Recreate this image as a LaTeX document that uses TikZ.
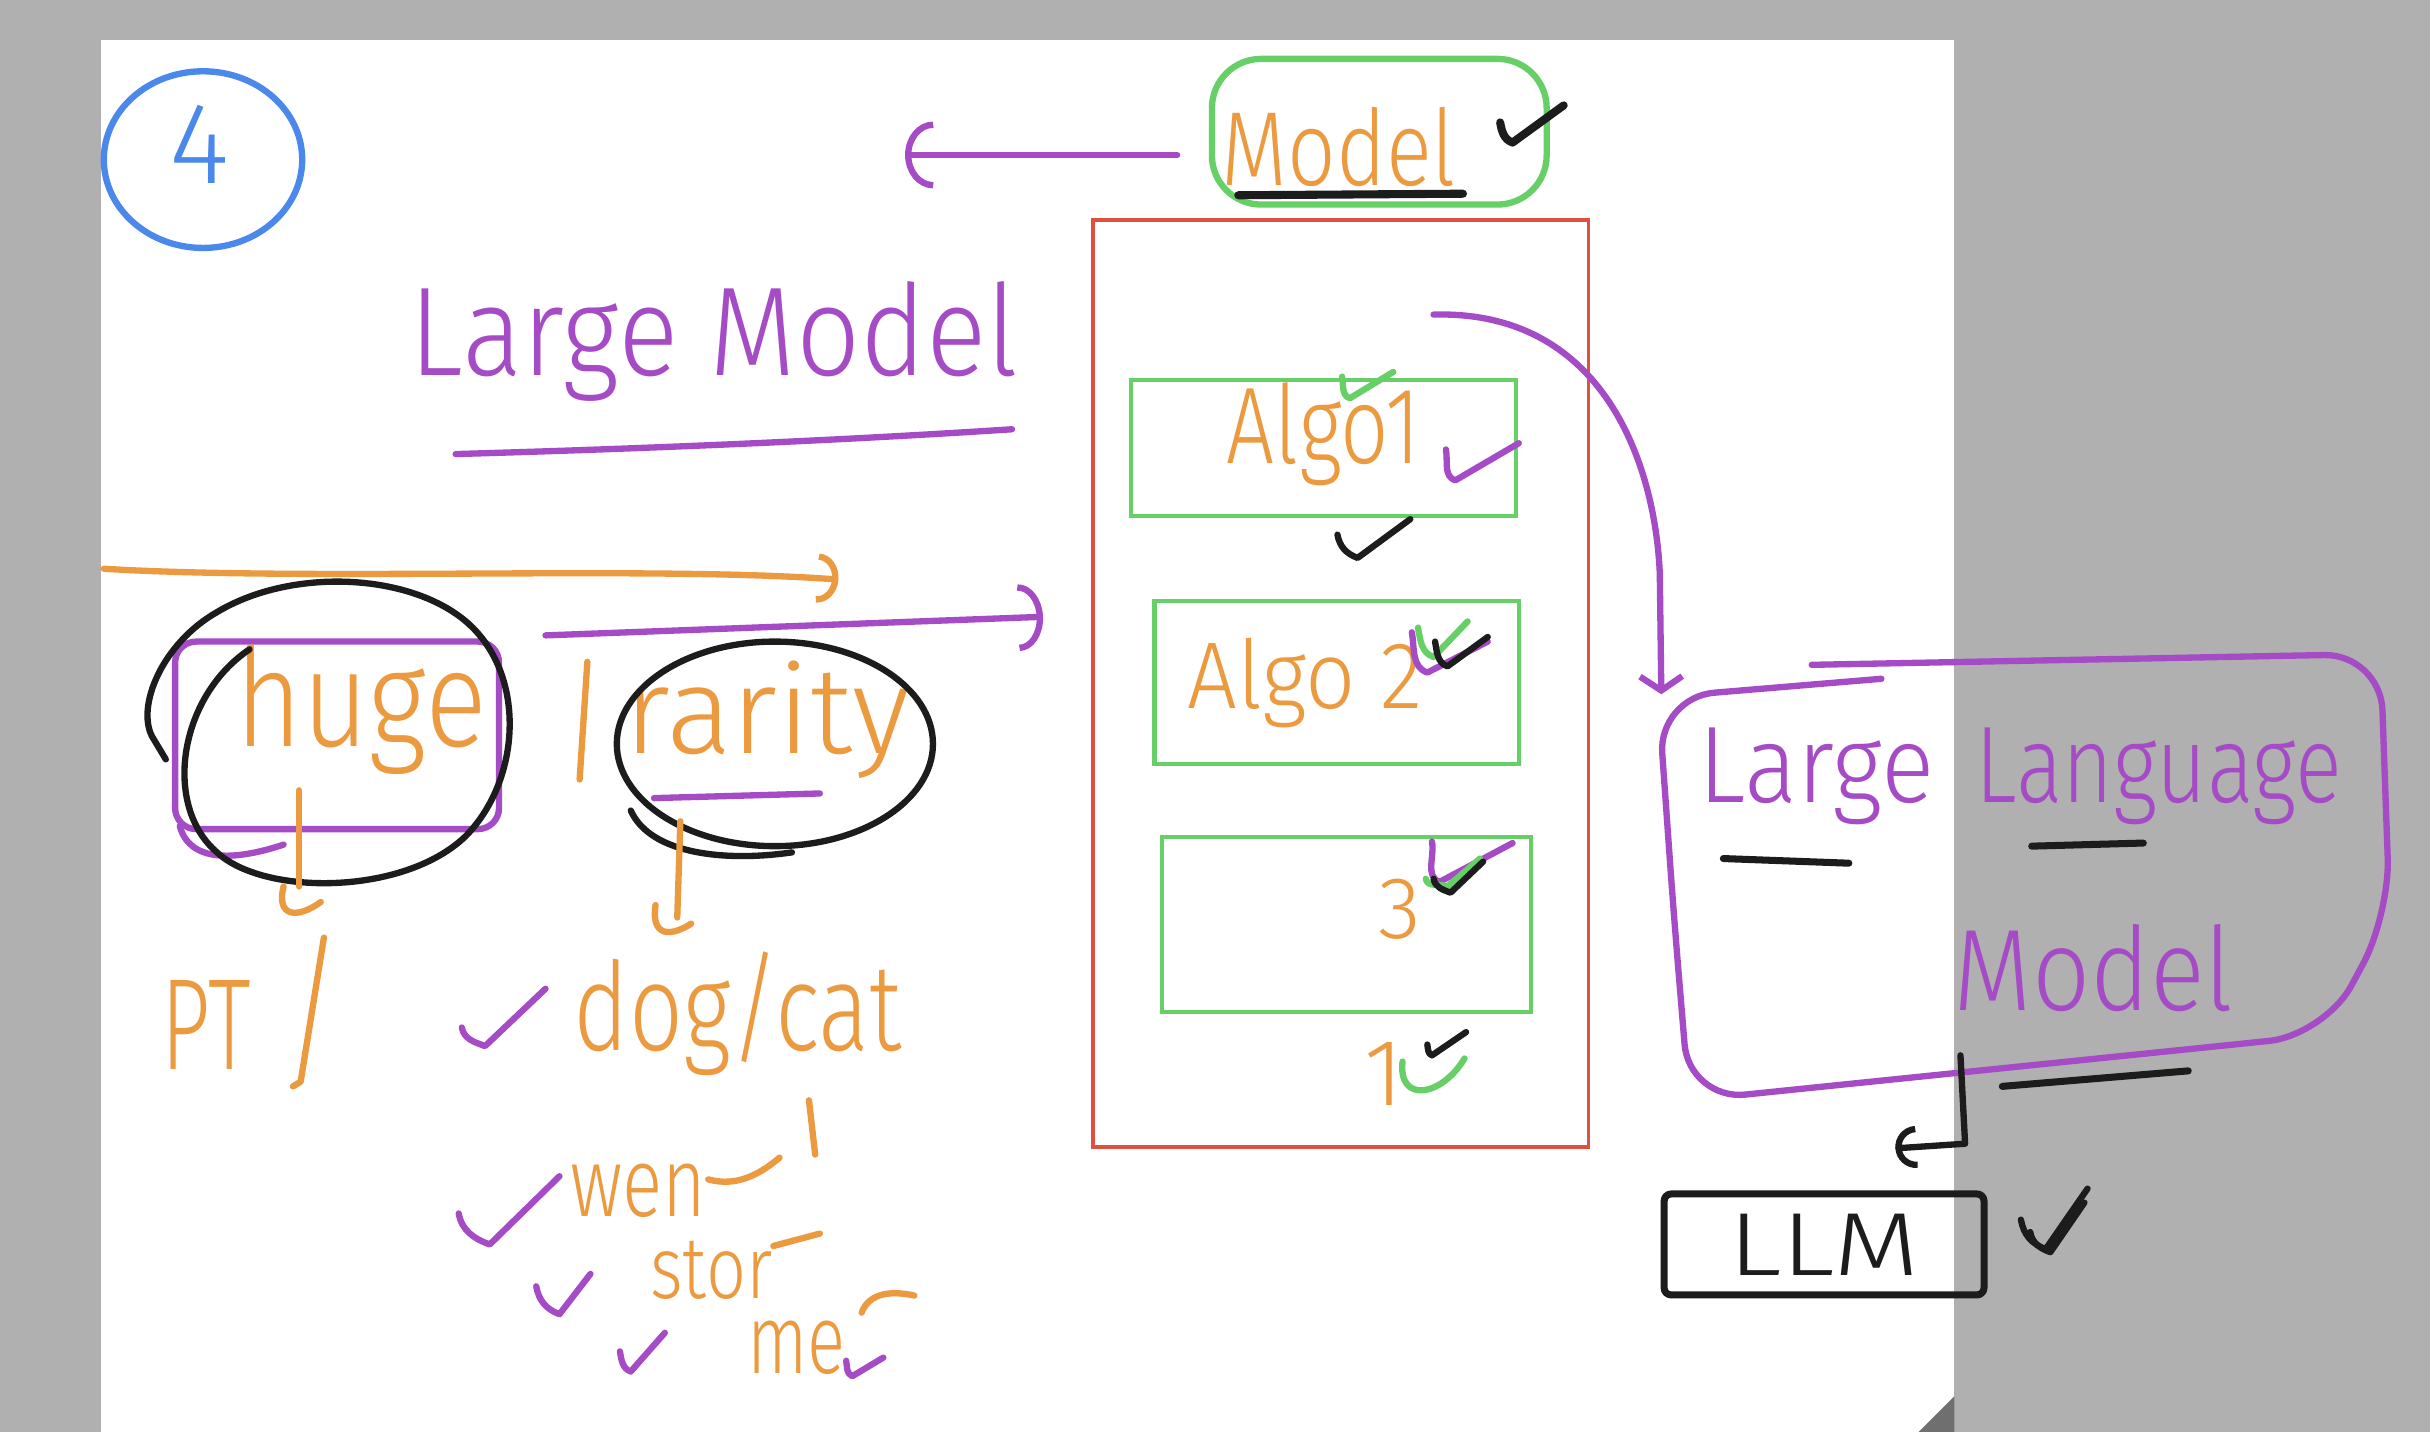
\documentclass[tikz,border=0pt]{standalone}
\usepackage{fontspec}
\setmainfont{Fira Sans Light}
\usetikzlibrary{arrows.meta,fit}

\definecolor{pagegray}{HTML}{B0B0B0}
\definecolor{pagecorner}{HTML}{6F6F6F}
\definecolor{penpurple}{HTML}{A64BC6}
\definecolor{penorange}{HTML}{EB9A40}
\definecolor{pengreen}{HTML}{66CF66}
\definecolor{penred}{HTML}{E0503F}
\definecolor{penblue}{HTML}{4A88EB}
\definecolor{penblack}{HTML}{1C1C1C}

\tikzset{
  pen/.style={line width=1.8pt, line cap=round, line join=round},
  hand/.style={inner sep=0pt, anchor=base, font=\fontsize{#1pt}{#1pt}\selectfont},
  greenbox/.style={draw=pengreen, line width=1.2pt, inner sep=0pt},
}
\newcommand{\hw}[2]{\scalebox{#1}[1]{#2}}
\newcommand{\tickmk}[4]{\draw[pen,#1] #2 to[out=-80,in=160] #3 -- #4;}

\begin{document}
\begin{tikzpicture}[x=0.0155cm, y=-0.0155cm]
\useasboundingbox (0,0) rectangle (1568,924);

% page
\fill[pagegray] (0,0) rectangle (1568,924);
\fill[white] (65,26) rectangle (1261,924);
\fill[pagecorner] (1238,924) -- (1261,901) -- (1261,924) -- cycle;

% step number
\draw[pen, penblue] (131,103) ellipse (64 and 57);
\node[hand=33, penblue, anchor=center] (stepno) at (129,93) {4};

% heading
\node[hand=36, penpurple] (heading) at (461,242) {\hw{0.89}{Large Model}};
\draw[pen, penpurple] (294,293) .. controls (400,290) and (530,285) .. (653,277);

% the two long strokes
\coordinate (orgL) at (67,367);
\coordinate (orgR) at (541,374);
\draw[pen, penorange, -{Arc Barb[length=6pt, width=14pt]}] (orgL) .. controls (200,375) and (420,365) .. (orgR);
\coordinate (prpL) at (352,410);
\coordinate (prpR) at (673,398);
\draw[pen, penpurple, -{Arc Barb[length=7pt, width=19pt]}] (prpL) -- (prpR);

% huge
\node[fit={(113,414) (322,535)}, inner sep=0pt, draw=penpurple, pen, rounded corners=6pt] (hugebox) {};
\draw[pen, penpurple] (116,533) .. controls (122,556) and (150,556) .. (183,545);
\node[hand=39, penorange] (huge) at (233,482) {\hw{0.84}{huge}};
\draw[pen, penblack] (161,419) .. controls (115,450) and (105,520) .. (140,550)
  .. controls (170,578) and (260,578) .. (300,540)
  .. controls (335,505) and (340,440) .. (305,405)
  .. controls (270,370) and (190,365) .. (140,395)
  .. controls (105,415) and (88,455) .. (98,475) -- (107,490);
\coordinate (hugeA) at (193,510);
\coordinate (hugeB) at (193,572);
\draw[pen, penorange] (hugeA) -- (hugeB);
\draw[pen, penorange] (183,572) .. controls (178,592) and (192,593) .. (207,582);

% rarity
\draw[pen, penorange] (379,427) -- (374,503);
\node[hand=35, penorange] (rarity) at (495,486) {rarity};
\draw[pen, penpurple] (422,515) -- (529,512);
\draw[pen, penblack] (500,480) ellipse (102 and 66);
\draw[pen, penblack] (407,523) .. controls (420,552) and (470,556) .. (511,550);
\coordinate (rarA) at (439,530);
\coordinate (rarB) at (437,592);
\draw[pen, penorange] (rarA) -- (rarB);
\draw[pen, penorange] (423,584) .. controls (420,604) and (432,605) .. (446,596);

% examples
\node[hand=37, penorange] (pt) at (133,690) {\hw{0.66}{PT}};
\draw[pen, penorange] (209,605) -- (194,698) -- (189,701);
\node[hand=35, penorange] (dogcat) at (476,678) {\hw{0.77}{dog/cat}};
\node[hand=28, penorange] (wen) at (412,785) {\hw{0.76}{wen}};
\draw[pen, penorange] (457,761) .. controls (475,766) and (490,758) .. (503,747);
\draw[pen, penorange] (522,710) -- (526,745);
\node[hand=25, penorange] (stor) at (459,838) {\hw{0.8}{stor}};
\draw[pen, penorange] (499,804) -- (529,796);
\node[hand=28, penorange] (me) at (514,886) {\hw{0.72}{me}};
\draw[pen, penorange] (556,847) .. controls (560,836) and (572,832) .. (590,836);
\tickmk{penpurple}{(298,663)}{(313,675)}{(352,638)}
\tickmk{penpurple}{(296,783)}{(316,803)}{(361,759)}
\tickmk{penpurple}{(346,830)}{(361,848)}{(381,822)}
\tickmk{penpurple}{(400,872)}{(407,885)}{(429,860)}
\tickmk{penpurple}{(546,878)}{(550,888)}{(570,876)}

% model
\node[fit={(782,38) (998,132)}, inner sep=0pt, draw=pengreen, pen, rounded corners=14pt] (modelbox) {};
\node[hand=30, penorange] (modeltxt) at (864,120) {\hw{0.81}{Model}};
\draw[pen, penblack, line width=2.3pt] (799,126) -- (944,125);
\tickmk{penblack, line width=2.3pt}{(968,79)}{(976,92)}{(1009,68)}
\coordinate (modelhook) at (584,100);
\draw[pen, penpurple, shorten <=9pt, -{Arc Barb[length=8pt, width=19pt]}] (modelbox.west |- modelhook) -- (modelhook);

% algorithms
\node[fit={(705,142) (1025,740)}, inner sep=0pt, draw=penred, line width=1.1pt] (algos) {};
\node[fit={(730,245) (978,333)}, greenbox] (algoA) {};
\node[fit={(745,388) (980,493)}, greenbox] (algoB) {};
\node[fit={(750,540) (988,653)}, greenbox] (algoC) {};
\node[hand=31, penorange] (algoAtxt) at (854,299) {\hw{0.78}{Algo1}};
\node[hand=27, penorange] (algoBtxt) at (842,457) {\hw{0.93}{Algo 2}};
\node[hand=25, penorange, anchor=center] (algoCtxt) at (903,587) {3};
\node[hand=27, penorange, anchor=center] (algoDtxt) at (893,693) {1};
\tickmk{pengreen}{(866,243)}{(871,257)}{(899,240)}
\tickmk{penpurple}{(933,290)}{(939,310)}{(980,286)}
\tickmk{penblack}{(863,345)}{(876,360)}{(910,335)}
\tickmk{penpurple}{(911,408)}{(921,434)}{(960,414)}
\tickmk{pengreen}{(915,405)}{(925,424)}{(947,401)}
\tickmk{penblack}{(926,414)}{(934,430)}{(960,411)}
\tickmk{penpurple}{(924,543)}{(929,569)}{(976,544)}
\tickmk{pengreen}{(920,567)}{(934,572)}{(955,554)}
\tickmk{penblack}{(925,567)}{(936,576)}{(957,556)}
\draw[pen, pengreen] (905,685) .. controls (902,712) and (930,708) .. (945,683);
\tickmk{penblack}{(921,674)}{(924,681)}{(946,666)}

% large language model
\draw[pen, penpurple, rounded corners=16pt] (1169,429) -- (1536,422) -- (1542,590) -- (1500,668)
  -- (1090,710) -- (1080,590) -- (1070,450) -- (1214,438);
\coordinate (llmin) at (1072,448);
\coordinate (algoout) at (925,203);
\draw[pen, penpurple, -{Straight Barb[length=4pt, width=12pt]}] (algoout) .. controls (1035,200) and (1068,300) .. (1071,370) -- (llmin);
\node[hand=31, penpurple] (wordA) at (1172,518) {\hw{0.91}{Large}};
\node[hand=31, penpurple] (wordB) at (1393,518) {\hw{0.8}{Language}};
\node[hand=33, penpurple] (wordC) at (1351,652) {\hw{0.88}{Model}};
\draw[pen, penblack, line width=2pt] (1112,554) -- (1193,557);
\draw[pen, penblack, line width=2pt] (1311,546) -- (1383,544);
\draw[pen, penblack, line width=2pt] (1292,701) -- (1412,691);

% llm
\coordinate (llmout) at (1265,681);
\coordinate (llmbend) at (1268,738);
\coordinate (llmhook) at (1223,741);
\draw[pen, penblack, -{Arc Barb[length=6pt, width=12pt]}] (llmout) -- (llmbend) -- (llmhook);
\node[draw=penblack, pen, line width=2pt, rounded corners=2pt, minimum width=3.2cm, minimum height=1.01cm,
  hand=25.5, anchor=center, text=penblack] (llm) at (1177,803) {\hw{1.25}{LLM}};
\tickmk{penblack}{(1304,787)}{(1320,806)}{(1347,767)}
\tickmk{penblack}{(1310,795)}{(1323,808)}{(1345,776)}

\end{tikzpicture}
\end{document}
